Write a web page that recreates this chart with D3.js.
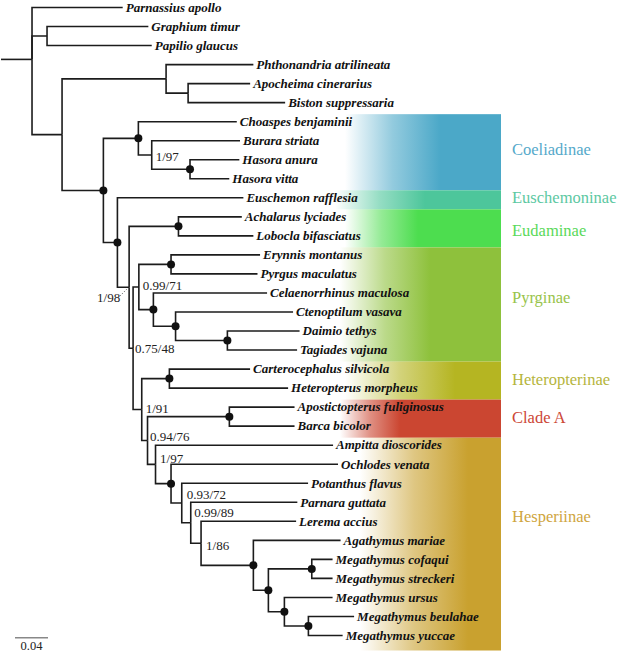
<!DOCTYPE html>
<html><head><meta charset="utf-8">
<script src="https://cdn.jsdelivr.net/npm/d3@7"></script>
<style>body{margin:0;background:#fff}svg{display:block}</style>
</head><body><svg id="c" width="625" height="656"></svg>
<script>
// ---------- DATA ----------
const taxa = [
 "Parnassius apollo","Graphium timur","Papilio glaucus","Phthonandria atrilineata",
 "Apocheima cinerarius","Biston suppressaria","Choaspes benjaminii","Burara striata",
 "Hasora anura","Hasora vitta","Euschemon rafflesia","Achalarus lyciades",
 "Lobocla bifasciatus","Erynnis montanus","Pyrgus maculatus","Celaenorrhinus maculosa",
 "Ctenoptilum vasava","Daimio tethys","Tagiades vajuna","Carterocephalus silvicola",
 "Heteropterus morpheus","Apostictopterus fuliginosus","Barca bicolor","Ampitta dioscorides",
 "Ochlodes venata","Potanthus flavus","Parnara guttata","Lerema accius","Agathymus mariae",
 "Megathymus cofaqui","Megathymus streckeri","Megathymus ursus","Megathymus beulahae","Megathymus yuccae"
];
// [node, parent, branch length]
const edges = [
 ["R","",0.0376],
 ["Parnassius apollo","R",0.1099],
 ["P","R",0.0182],
 ["Graphium timur","P",0.1228],
 ["Papilio glaucus","P",0.1269],
 ["I","R",0.0364],
 ["G","I",0.1261],
 ["Phthonandria atrilineata","G",0.1058],
 ["G2","G",0.0267],
 ["Apocheima cinerarius","G2",0.0752],
 ["Biston suppressaria","G2",0.1176],
 ["HS","I",0.0501],
 ["C","HS",0.0424],
 ["Choaspes benjaminii","C",0.1193],
 ["C2","C",0.0162],
 ["Burara striata","C2",0.1070],
 ["C3","C2",0.0464],
 ["Hasora anura","C3",0.0598],
 ["Hasora vitta","C3",0.0476],
 ["E1","HS",0.0170],
 ["Euschemon rafflesia","E1",0.1527],
 ["E2","E1",0.0142],
 ["Ed","E2",0.0598],
 ["Achalarus lyciades","Ed",0.0768],
 ["Lobocla bifasciatus","Ed",0.0908],
 ["N","E2",0.0048],
 ["Py","N",0.0070],
 ["Py1","Py",0.0390],
 ["Erynnis montanus","Py1",0.1079],
 ["Pyrgus maculatus","Py1",0.1048],
 ["Py2","Py",0.0176],
 ["Celaenorrhinus maculosa","Py2",0.1378],
 ["Py3","Py2",0.0269],
 ["Ctenoptilum vasava","Py3",0.1424],
 ["Py4","Py3",0.0628],
 ["Daimio tethys","Py4",0.0875],
 ["Tagiades vajuna","Py4",0.0845],
 ["H1","N",0.0105],
 ["Het","H1",0.0335],
 ["Carterocephalus silvicola","Het",0.0978],
 ["Heteropterus morpheus","Het",0.1439],
 ["H2","H1",0.0070],
 ["CA","H2",0.0992],
 ["Apostictopterus fuliginosus","CA",0.0790],
 ["Barca bicolor","CA",0.0790],
 ["H3","H2",0.0097],
 ["Ampitta dioscorides","H3",0.2152],
 ["H4","H3",0.0188],
 ["Ochlodes venata","H4",0.2024],
 ["H5","H4",0.0130],
 ["Potanthus flavus","H5",0.1531],
 ["H6","H5",0.0109],
 ["Parnara guttata","H6",0.1292],
 ["H7","H6",0.0125],
 ["Lerema accius","H7",0.1152],
 ["H8","H7",0.0634],
 ["Agathymus mariae","H8",0.1057],
 ["H9","H8",0.0182],
 ["H9a","H9",0.0526],
 ["Megathymus cofaqui","H9a",0.0252],
 ["Megathymus streckeri","H9a",0.0252],
 ["H10","H9",0.0194],
 ["Megathymus ursus","H10",0.0584],
 ["H10a","H10",0.0291],
 ["Megathymus beulahae","H10a",0.0554],
 ["Megathymus yuccae","H10a",0.0415]
];
// fully supported nodes (dots)
const dotNodes = ["C","C3","HS","E1","Ed","Py1","Py2","Py3","Py4","Het","CA","H4","H8","H9","H9a","H10","H10a"];
// support values [node, label]
const supports = [
 ["C2","1/97"],["E2","1/98"],["Py","0.99/71"],["N","0.75/48"],["H1","1/91"],
 ["H2","0.94/76"],["H3","1/97"],["H5","0.93/72"],["H6","0.99/89"],["H7","1/86"]
];
// clades [name, first taxon, last taxon]
const cladeNames = ["Coeliadinae","Euschemoninae","Eudaminae","Pyrginae","Heteropterinae","Clade A","Hesperiinae"];
const cladeFirst = ["Choaspes benjaminii","Euschemon rafflesia","Achalarus lyciades","Erynnis montanus","Carterocephalus silvicola","Apostictopterus fuliginosus","Ampitta dioscorides"];
const cladeLast  = ["Hasora vitta","Euschemon rafflesia","Lobocla bifasciatus","Tagiades vajuna","Heteropterus morpheus","Barca bicolor","Megathymus yuccae"];
const scaleBarValue = 0.04;
const scaleBarLabel = "0.04";

// ---------- STYLE / LAYOUT ----------
const cladeColors = ["#4ba8c8","#4dc69b","#4ddd4f","#8ec13c","#b5b522","#cb4631","#c9a12f"];
const cladeTextColors = ["#55a9ca","#5cc8a2","#5ad95a","#98c34a","#b5b53c","#cc4636","#cfa540"];
const cladeGrad = [[345,440],[335,425],[345,418],[340,430],[345,455],[340,400],[360,468]];
const cladeLabelRow = [7.49,10.03,11.74,15.28,19.57,21.57,26.77];
const supportOffsets = {C2:[4,6],E2:[-32,14.5],Py:[4,2.5],N:[2,4.5],H1:[4,3],H2:[2.5,0.8],H3:[4.5,-1.7],H5:[5,-4.4],H6:[3.6,-5.7],H7:[5,6.4]};

const svg = d3.select("#c");
const serif = "'Liberation Serif','Times New Roman',serif";

const root = d3.stratify().id(d=>d[0]).parentId(d=>d[1]||null)(edges);
root.eachBefore(n=>{ n.depth2 = (n.parent? n.parent.depth2 : 0) + n.data[2]; });

const x = d3.scaleLinear().domain([0,0.4]).range([1,331]);
const y = d3.scaleLinear().domain([0,taxa.length-1]).range([7.5,635.5]);
root.eachAfter(n=>{
  if(!n.children) n.yy = y(taxa.indexOf(n.id));
  else n.yy = d3.mean(n.children, c=>c.yy);
  n.xx = x(n.depth2);
});

// clade bands
const defs = svg.append("defs");
const bandRight = 501, bandLeft = 300;
cladeNames.forEach((name,i)=>{
  const g = defs.append("linearGradient").attr("id","g"+i).attr("gradientUnits","userSpaceOnUse")
    .attr("x1",cladeGrad[i][0]).attr("x2",cladeGrad[i][1]).attr("y1",0).attr("y2",0);
  g.append("stop").attr("offset",0).attr("stop-color",cladeColors[i]).attr("stop-opacity",0);
  g.append("stop").attr("offset",0.5).attr("stop-color",cladeColors[i]).attr("stop-opacity",0.6);
  g.append("stop").attr("offset",1).attr("stop-color",cladeColors[i]).attr("stop-opacity",1);
});
const step = y(1)-y(0);
const bands = svg.append("g");
cladeNames.forEach((name,i)=>{
  const i0 = taxa.indexOf(cladeFirst[i]), i1 = taxa.indexOf(cladeLast[i]);
  const top = y(i0) - step/2 + 2;
  const bot = i1===taxa.length-1 ? y(i1)+15 : y(i1) + step/2 + 2;
  bands.append("rect").attr("x",bandLeft).attr("y",top).attr("width",bandRight-bandLeft).attr("height",bot-top)
    .attr("fill","url(#g"+i+")");
  svg.append("text").attr("x",512).attr("y",y(cladeLabelRow[i])+5)
    .attr("font-family",serif).attr("font-size",16.5).attr("fill",cladeTextColors[i]).text(name);
});

// branches
const lines = svg.append("g").attr("fill","none").attr("stroke","#1c1c1c").attr("stroke-width",1.6);
lines.append("path").attr("d",`M${x(0)},${root.yy}H${root.xx}`);
root.descendants().filter(n=>n.parent).forEach(n=>{
  lines.append("path").attr("d",`M${n.parent.xx},${n.parent.yy}V${n.yy}H${n.xx}`);
});

// dots
svg.append("g").selectAll("circle").data(root.descendants().filter(n=>dotNodes.includes(n.id)))
  .join("circle").attr("cx",d=>d.xx).attr("cy",d=>d.yy).attr("r",4).attr("fill","#111");

// leaf labels
svg.append("g").selectAll("text").data(root.leaves()).join("text")
  .attr("x",d=>d.xx+3).attr("y",d=>d.yy+4.3)
  .attr("font-family",serif).attr("font-size",13).attr("font-weight","bold").attr("font-style","italic")
  .attr("fill","#111").text(d=>d.id);

// support labels
const nodeById = new Map(root.descendants().map(n=>[n.id,n]));
supports.forEach(([id,lab])=>{
  const n = nodeById.get(id), o = supportOffsets[id];
  svg.append("text").attr("x",n.xx+o[0]).attr("y",n.yy+o[1])
    .attr("font-family",serif).attr("font-size",13).attr("fill","#222").text(lab);
  if(id==="E2"){
    svg.append("line").attr("x1",n.xx-9).attr("y1",n.yy+8.5).attr("x2",n.xx-2).attr("y2",n.yy+1.5)
      .attr("stroke","#444").attr("stroke-width",0.8).attr("stroke-dasharray","1.2,1.5");
  }
});

// scale bar
const sb0 = 15, sby = 637.7;
const sbLen = x(scaleBarValue)-x(0);
svg.append("line").attr("x1",sb0).attr("x2",sb0+sbLen).attr("y1",sby).attr("y2",sby)
  .attr("stroke","#888").attr("stroke-width",1.4);
svg.append("text").attr("x",sb0+sbLen/2).attr("y",650).attr("text-anchor","middle")
  .attr("font-family",serif).attr("font-size",12.5).attr("fill","#222").text(scaleBarLabel);
</script></body></html>
